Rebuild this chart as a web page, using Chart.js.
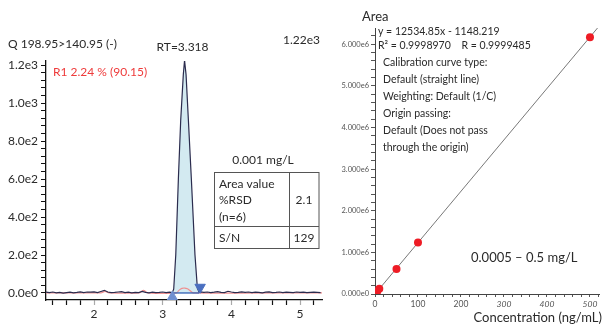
<!DOCTYPE html>
<html><head><meta charset="utf-8">
<script src="https://cdn.jsdelivr.net/npm/chart.js@4/dist/chart.umd.min.js"></script>
<style>
html,body{margin:0;padding:0;background:#fff;width:603px;height:327px;overflow:hidden}
#wrapL{position:absolute;left:0;top:0;width:335px;height:327px}
#wrapR{position:absolute;left:335px;top:0;width:268px;height:327px}
</style></head><body>
<div id="wrapL"><canvas id="cL" width="335" height="327"></canvas></div>
<div id="wrapR"><canvas id="cR" width="268" height="327"></canvas></div>
<script>
// ---------- chromatogram data (left) ----------
const noiseLeftTimes = [1.30,1.35,1.40,1.45,1.50,1.55,1.60,1.65,1.70,1.75,1.80,1.85,1.90,1.95,2.00,2.05,2.10,2.15,2.20,2.25,2.30,2.35,2.40,2.45,2.50,2.55,2.60,2.65,2.70,2.75,2.80,2.85,2.90,2.95,3.00,3.05,3.10];
const noiseLeftValues = [4,2,5,1,3,-1,2,4,1,3,6,2,5,4,6,2,8,14,5,2,3,5,7,2,4,1,3,2,8,3,1,4,2,3,5,2,4];
const peakTimes = [3.14,3.16,3.19,3.228,3.262,3.30,3.318,3.34,3.374,3.417,3.47,3.505,3.53];
const peakValues = [2,20,200,600,910,1150,1225,1150,910,600,200,25,5];
const noiseRightTimes = [3.55,3.60,3.65,3.70,3.75,3.80,3.85,3.90,3.95,4.00,4.05,4.10,4.15,4.20,4.25,4.30,4.35,4.40,4.45,4.50,4.55,4.60,4.65,4.70,4.75,4.80,4.85,4.90,4.95,5.00,5.05,5.10,5.15,5.20,5.25,5.30];
const noiseRightValues = [6,3,5,2,4,7,3,2,9,5,2,3,6,3,5,2,4,3,1,4,6,2,3,5,2,4,3,2,5,3,4,2,3,4,3,2];
const pinkTimes = [1.30,2.10,2.16,2.22,2.66,2.72,2.78,3.20,3.24,3.28,3.32,3.36,3.40,3.44,5.32];
const pinkValues = [1,1,8,1,1,14,1,1,15,24,26,22,12,1,1];
const baselineTimes = [3.14,3.53];
const baselineValues = [0,0];
const peakApexTime = 3.318, peakApexMarker = 1240;
const peakStartTime = 3.14, peakStartMarker = -22;
const peakEndTime = 3.545, peakEndMarker = 30;
const chromYTicks = [0,200,400,600,800,1000,1200];

// ---------- calibration data (right) ----------
const concLevels = [0.5,1,2,5,10,50,100,500];
const areaValues = [6000,12000,24000,62000,124000,600000,1240000,6170000];
const fitX = [0,520];
const fitY = [-1148,6420000];

const FONT = 'Lato, "Open Sans", sans-serif';
const toXY = (xs, ys) => xs.map((x,i)=>({x:x,y:ys[i]}));
const traceTimes = noiseLeftTimes.concat(peakTimes, noiseRightTimes);
const traceValues = noiseLeftValues.concat(peakValues, noiseRightValues);

function stepTicks(from, to, step){ const t=[]; const n=Math.round((to-from)/step); for(let i=0;i<=n;i++){ t.push({value:+(from+i*step).toFixed(6)}); } return t; }

const leftText = {
  id:'leftText',
  afterDraw(chart){
    const c = chart.ctx, xs = chart.scales.x, ys = chart.scales.y;
    c.save();
    c.textBaseline='middle';
    c.fillStyle='#2a2a2a';
    c.font='12px '+FONT;
    c.textAlign='left';
    c.fillText('Q 198.95>140.95 (-)', 8, 44);
    c.fillText('1.22e3', 283, 40);
    c.textAlign='center';
    c.fillText('RT=3.318', xs.getPixelForValue(peakApexTime)-2, 47);
    c.fillStyle='#ee3b3b';
    c.textAlign='left';
    c.fillText('R1 2.24 % (90.15)', 53, 72);
    // table
    c.fillStyle='#2a2a2a';
    c.textAlign='center';
    c.fillText('0.001 mg/L', 263, 160);
    c.fillStyle='#ffffff';
    c.fillRect(214.5,172.5,104.5,76);
    c.strokeStyle='#555';
    c.lineWidth=1;
    c.strokeRect(214.5,172.5,104.5,76);
    c.beginPath();
    c.moveTo(289.5,172.5); c.lineTo(289.5,248.5);
    c.moveTo(214.5,226.5); c.lineTo(319,226.5);
    c.stroke();
    c.fillStyle='#2a2a2a';
    c.textAlign='left';
    c.fillText('Area value', 219, 184);
    c.fillText('%RSD', 219, 200);
    c.fillText('(n=6)', 219, 217);
    c.fillText('S/N', 219, 238);
    c.textAlign='center';
    c.fillText('2.1', 304, 200);
    c.fillText('129', 304, 238);
    c.restore();
  }
};

new Chart(document.getElementById('cL'), {
  type:'line',
  data:{ datasets:[
    {data:toXY(peakTimes,peakValues), borderWidth:0, borderColor:'rgba(0,0,0,0)', backgroundColor:'#d3eaf1', fill:'origin', pointRadius:0, tension:0, order:6},
    {data:toXY(pinkTimes,pinkValues), borderColor:'#ef8f8f', borderWidth:1.2, fill:false, pointRadius:0, tension:0.3, order:4},
    {data:toXY(traceTimes,traceValues), borderColor:'#2b2c4e', borderWidth:1.2, fill:false, pointRadius:0, tension:0, order:3},
    {data:toXY(baselineTimes,baselineValues), borderColor:'#2f5fb3', borderWidth:1.3, fill:false, pointRadius:0, tension:0, order:2},
    {type:'scatter', data:[{x:peakApexTime,y:peakApexMarker}], pointStyle:'triangle', rotation:180, pointRadius:4, backgroundColor:'#2b2c4e', borderColor:'#2b2c4e', order:1},
    {type:'scatter', data:[{x:peakStartTime,y:peakStartMarker}], pointStyle:'triangle', rotation:0, pointRadius:6, backgroundColor:'#6f8fd0', borderColor:'#6f8fd0', order:1},
    {type:'scatter', data:[{x:peakEndTime,y:peakEndMarker}], pointStyle:'triangle', rotation:180, pointRadius:6, backgroundColor:'#4a6fc0', borderColor:'#4a6fc0', order:1}
  ]},
  options:{
    responsive:false, animation:false,
    layout:{padding:{top:61,right:13,bottom:0,left:0}},
    plugins:{legend:{display:false}, tooltip:{enabled:false}},
    scales:{
      x:{type:'linear', min:1.3, max:5.32,
        afterBuildTicks:(s)=>{ s.ticks = stepTicks(1.4,5.2,0.2); },
        afterFit:(s)=>{ s.height = 27; },
        border:{display:true,color:'#111',width:1.3},
        grid:{drawOnChartArea:false, drawTicks:true, tickLength:5, tickWidth:1.2,
          color:(ctx)=> (ctx.tick && Math.abs(ctx.tick.value-Math.round(ctx.tick.value))<1e-6) ? '#aaaaaa' : '#111'},
        ticks:{autoSkip:false, maxRotation:0, padding:2, color:'#2a2a2a', font:{family:FONT,size:12},
          callback:(v)=> Math.abs(v-Math.round(v))<1e-6 ? String(Math.round(v)) : ''}
      },
      y:{type:'linear', min:-37, max:1222,
        afterBuildTicks:(s)=>{ s.ticks = stepTicks(0,1200,40); },
        afterFit:(s)=>{ s.width = 46; },
        border:{display:true,color:'#111',width:1.3},
        grid:{drawOnChartArea:false, drawTicks:true, tickLength:5, tickWidth:1, color:'#111'},
        ticks:{autoSkip:false, padding:3, color:'#2a2a2a', font:{family:FONT,size:12},
          callback:(v)=> (chromYTicks.indexOf(v)>=0) ? v.toExponential(1).replace('e+','e') : ''}
      }
    }
  },
  plugins:[leftText]
});

const rightText = {
  id:'rightText',
  afterDraw(chart){
    const c = chart.ctx, o = 335;
    c.save();
    c.textBaseline='middle';
    c.fillStyle='#2a2a2a';
    c.textAlign='left';
    c.font='13px '+FONT;
    c.fillText('Area', 362-o, 17);
    c.font='10.5px '+FONT;
    c.fillText('y = 12534.85x - 1148.219', 378-o, 32);
    c.fillText('R\u00B2 = 0.9998970    R = 0.9999485', 378-o, 46);
    c.fillText('Calibration curve type:', 383-o, 63);
    c.fillText('Default (straight line)', 383-o, 80);
    c.fillText('Weighting: Default (1/C)', 383-o, 97);
    c.fillText('Origin passing:', 383-o, 114);
    c.fillText('Default (Does not pass', 383-o, 131);
    c.fillText('through the origin)', 383-o, 148);
    c.font='13px '+FONT;
    c.fillText('0.0005 \u2013 0.5 mg/L', 471-o, 258);
    c.textAlign='right';
    c.fillText('Concentration (ng/mL)', 602-o, 318);
    c.restore();
  }
};

new Chart(document.getElementById('cR'), {
  type:'scatter',
  data:{ datasets:[
    {type:'line', data:toXY(fitX,fitY), borderColor:'#555', borderWidth:0.8, pointRadius:0, fill:false, order:2},
    {data:toXY(concLevels,areaValues), pointRadius:4, pointStyle:'circle', backgroundColor:'#ee1c25', borderColor:'#ee1c25', borderWidth:0, order:1}
  ]},
  options:{
    responsive:false, animation:false,
    layout:{padding:{top:28,right:2,bottom:0,left:0}},
    plugins:{legend:{display:false}, tooltip:{enabled:false}},
    scales:{
      x:{type:'linear', min:0, max:521,
        afterBuildTicks:(s)=>{ s.ticks = stepTicks(0,520,20); },
        afterFit:(s)=>{ s.height = 33; },
        border:{display:true,color:'#444',width:1},
        grid:{drawOnChartArea:false, drawTicks:true, tickLength:3, color:'#555'},
        ticks:{autoSkip:false, maxRotation:0, padding:2, color:'#555',
          font:(ctx)=>({family:FONT,size:8.5,style:(ctx.tick && ctx.tick.value>=300)?'italic':'normal'}),
          callback:(v)=> (v%100===0) ? String(v) : ''}
      },
      y:{type:'linear', min:0, max:6.39e6,
        afterBuildTicks:(s)=>{ s.ticks = stepTicks(0,6.2e6,2e5); },
        afterFit:(s)=>{ s.width = 40; },
        border:{display:true,color:'#444',width:1},
        grid:{drawOnChartArea:false, drawTicks:true, tickLength:4, color:'#555'},
        ticks:{autoSkip:false, padding:2, color:'#555', font:{family:FONT,size:7.5},
          callback:(v)=> (Math.abs(v/1e6-Math.round(v/1e6))<1e-9) ? v.toExponential(3).replace('e+','e') : ''}
      }
    }
  },
  plugins:[rightText]
});
</script>
</body></html>
